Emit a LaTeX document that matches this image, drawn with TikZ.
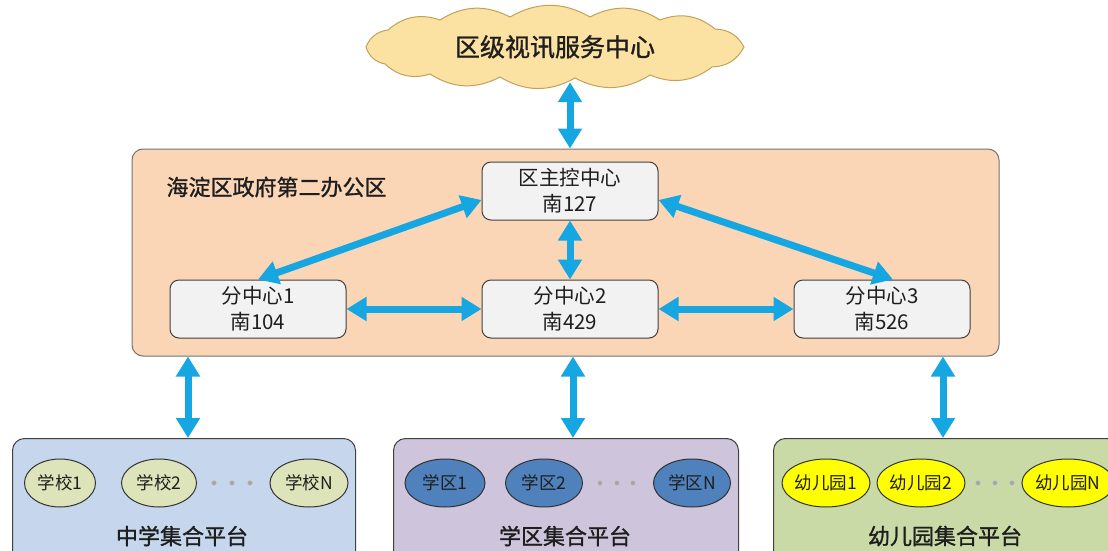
\documentclass[tikz,border=0pt]{standalone}
\usepackage{fontspec}
\setmainfont{Noto Sans CJK SC}
\newfontfamily\heavycjk[FakeBold=1.2]{Noto Sans CJK SC}
\usetikzlibrary{arrows.meta,shapes.geometric,calc}
\definecolor{arrowblue}{RGB}{22,166,226}
\definecolor{peach}{RGB}{250,214,183}
\definecolor{nodegray}{RGB}{242,242,242}
\definecolor{cloudfill}{RGB}{251,226,162}
\definecolor{cloudline}{RGB}{196,160,90}
\definecolor{boxblue}{RGB}{198,214,236}
\definecolor{boxlav}{RGB}{206,196,219}
\definecolor{boxgreen}{RGB}{202,218,167}
\definecolor{olive}{RGB}{222,228,186}
\definecolor{ellblue}{RGB}{79,129,189}
\definecolor{ellyellow}{RGB}{255,255,0}
\definecolor{txt}{RGB}{30,30,30}
\tikzset{
  biarrow/.style={line width=7pt, draw=arrowblue,
    {Triangle[width=23pt,length=20pt]}-{Triangle[width=23pt,length=20pt]}},
  centerbox/.style={draw=black!75, line width=1pt, fill=nodegray, rounded corners=9pt,
    minimum width=176pt, minimum height=58pt, align=center, text=txt,
    font=\fontsize{20.5}{26}\selectfont, inner sep=0pt},
  platform/.style={draw=black!75, line width=1pt, rounded corners=12pt},
  member/.style={ellipse, draw=black!80, line width=1pt, minimum height=48pt, inner sep=0pt,
    text=txt, font=\fontsize{17.5}{20}\selectfont},
  dot/.style={circle, fill=black!35, draw=black!20, minimum size=5pt, inner sep=0pt},
  title/.style={text=txt, font=\heavycjk\fontsize{22}{26}\selectfont},
  puffs/.style={fill=cloudfill, draw=cloudline, line width=1pt},
}
\begin{document}
\begin{tikzpicture}[x=1pt,y=-1pt]
\clip (0,0) rectangle (1108,551);
\fill[white] (0,0) rectangle (1108,551);

% cloud outline
\draw[puffs] (744,47)
  to[bend left=30] (712,67) to[bend left=30] (650,75) to[bend left=30] (575,78)
  to[bend left=30] (500,77) to[bend left=30] (430,74) to[bend left=30] (385,64)
  to[bend left=30] (366,47) to[bend left=30] (388,30) to[bend left=30] (440,20)
  to[bend left=30] (510,17) to[bend left=30] (590,17) to[bend left=30] (660,20)
  to[bend left=30] (715,29) to[bend left=30] cycle;
\node[text=txt, font=\heavycjk\fontsize{25}{28}\selectfont, inner sep=0pt,
      minimum width=378pt, minimum height=64pt]
      (cloud) at (555,47) {区级视讯服务中心};

% main area
\node[draw=black!55, line width=1pt, fill=peach, rounded corners=11pt,
      minimum width=867pt, minimum height=207pt, inner sep=0pt]
      (area) at (565.5,252.5) {};
\node[anchor=west, title] (areatitle) at (163,187) {海淀区政府第二办公区};

\node[centerbox] (main) at (570,191) {区主控中心\\南127};
\node[centerbox] (fz1) at (258,309) {分中心1\\南104};
\node[centerbox] (fz2) at (570,309) {分中心2\\南429};
\node[centerbox] (fz3) at (882,309) {分中心3\\南526};

% platforms
\node[platform, fill=boxblue, minimum width=343pt, minimum height=140pt, anchor=north west, inner sep=0pt]
  (p1) at (12,438) {};
\node[platform, fill=boxlav, minimum width=345pt, minimum height=140pt, anchor=north west, inner sep=0pt]
  (p2) at (393,438) {};
\node[platform, fill=boxgreen, minimum width=345pt, minimum height=140pt, anchor=north west, inner sep=0pt]
  (p3) at (773,438) {};

\node[title] (t1) at (182,536) {中学集合平台};
\node[title] (t2) at (565,536) {学区集合平台};
\node[title] (t3) at (945,536) {幼儿园集合平台};

% members
\node[member, fill=olive, minimum width=71pt] (s1) at (60,483) {学校1};
\node[member, fill=olive, minimum width=75pt] (s2) at (159,483) {学校2};
\node[member, fill=olive, minimum width=78pt] (sn) at (309,483) {学校N};
\node[dot] (sd1) at (214,483) {};
\node[dot] (sd2) at (232,483) {};
\node[dot] (sd3) at (250,483) {};

\node[member, fill=ellblue, minimum width=80pt] (x1) at (445,483) {学区1};
\node[member, fill=ellblue, minimum width=77pt] (x2) at (544,483) {学区2};
\node[member, fill=ellblue, minimum width=77pt] (xn) at (692,483) {学区N};
\node[dot] (xd1) at (600,483) {};
\node[dot] (xd2) at (617,483) {};
\node[dot] (xd3) at (633,483) {};

\node[member, fill=ellyellow, minimum width=82pt] (k1) at (826,483) {幼儿园1};
\node[member, fill=ellyellow, minimum width=77pt] (k2) at (921,483) {幼儿园2};
\node[member, fill=ellyellow, minimum width=75pt] (kn) at (1068,483) {幼儿园N};
\node[dot] (kd1) at (978,483) {};
\node[dot] (kd2) at (995,483) {};
\node[dot] (kd3) at (1012,483) {};

% connector columns
\coordinate (c1) at (188,0);
\coordinate (c2) at (573,0);
\coordinate (c3) at (943,0);

% connectors
\draw[biarrow] ([yshift=-3pt]cloud.south -| main) -- (main |- area.north);
\draw[biarrow] ([yshift=-9pt]main.west) -- (fz1.north);
\draw[biarrow] ([yshift=-9pt]main.east) -- ([xshift=11pt]fz3.north);
\draw[biarrow] (main.south) -- (fz2.north);
\draw[biarrow] (fz1.east) -- (fz2.west);
\draw[biarrow] (fz2.east) -- (fz3.west);
\draw[biarrow] (area.south -| c1) -- (p1.north -| c1);
\draw[biarrow] (area.south -| c2) -- (p2.north -| c2);
\draw[biarrow] (area.south -| c3) -- (p3.north -| c3);
\end{tikzpicture}
\end{document}
